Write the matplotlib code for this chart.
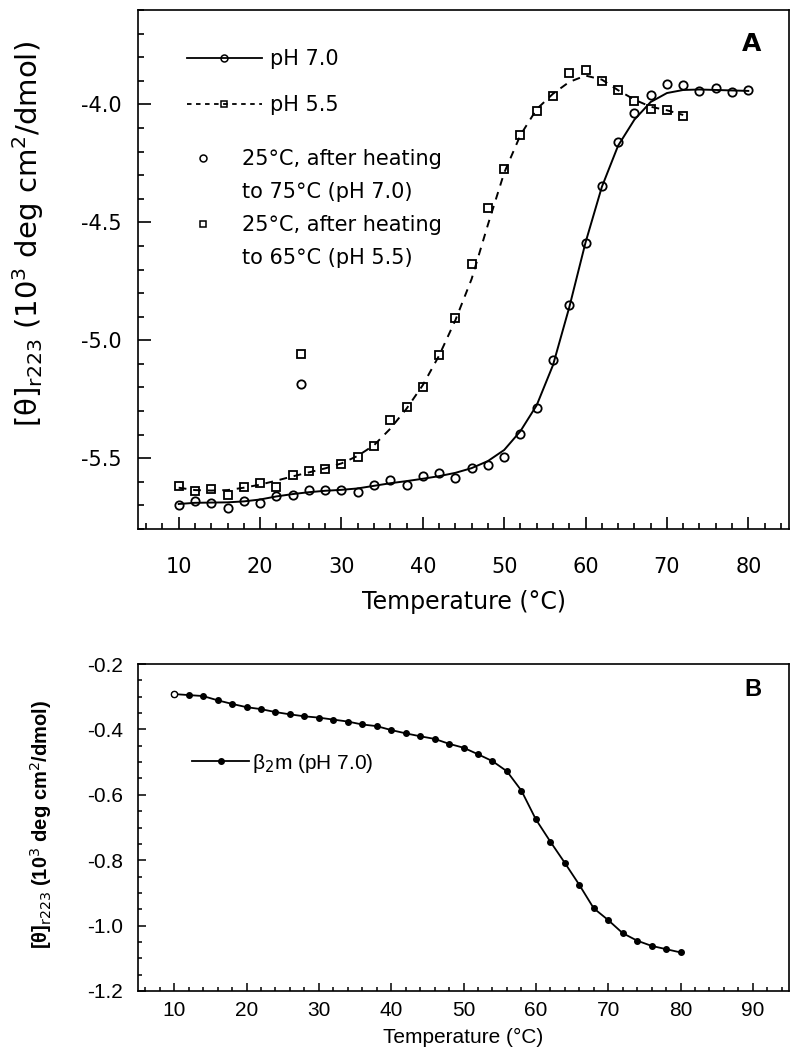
import matplotlib
matplotlib.use('Agg')
import matplotlib.pyplot as plt
from matplotlib.lines import Line2D
from matplotlib.ticker import MultipleLocator, FormatStrFormatter

plt.rcParams['font.family'] = ['DejaVu Sans']
plt.rcParams['axes.unicode_minus'] = False
plt.rcParams['mathtext.fontset'] = 'dejavusans'

# ---------------- Panel A data ----------------
temp_a70 = [10, 12, 14, 16, 18, 20, 22, 24, 26, 28, 30, 32, 34, 36, 38, 40, 42, 44,
            46, 48, 50, 52, 54, 56, 58, 60, 62, 64, 66, 68, 70, 72, 74, 76, 78, 80]
ph70 = [-5.697, -5.680, -5.691, -5.711, -5.683, -5.691, -5.659, -5.654, -5.636, -5.636,
        -5.636, -5.645, -5.614, -5.594, -5.612, -5.577, -5.563, -5.583,
        -5.541, -5.529, -5.493, -5.398, -5.289, -5.082, -4.852, -4.589, -4.346, -4.159,
        -4.035, -3.959, -3.914, -3.918, -3.945, -3.931, -3.948, -3.941]
fit70 = [-5.694, -5.689, -5.688, -5.687, -5.683, -5.675, -5.662, -5.652, -5.644, -5.638,
         -5.634, -5.628, -5.617, -5.606, -5.597, -5.587, -5.576, -5.562,
         -5.542, -5.512, -5.465, -5.385, -5.275, -5.105, -4.860, -4.585, -4.350, -4.175,
         -4.065, -3.990, -3.952, -3.939, -3.937, -3.939, -3.941, -3.943]

temp_a55 = [10, 12, 14, 16, 18, 20, 22, 24, 26, 28, 30, 32, 34, 36, 38, 40, 42, 44,
            46, 48, 50, 52, 54, 56, 58, 60, 62, 64, 66, 68, 70, 72]
ph55 = [-5.616, -5.640, -5.630, -5.657, -5.623, -5.604, -5.622, -5.573, -5.556, -5.544,
        -5.525, -5.495, -5.447, -5.337, -5.282, -5.197, -5.062, -4.907,
        -4.677, -4.441, -4.276, -4.128, -4.028, -3.966, -3.866, -3.853, -3.899, -3.938,
        -3.986, -4.018, -4.024, -4.051]
fit55 = [-5.625, -5.635, -5.637, -5.635, -5.625, -5.612, -5.595, -5.577, -5.560, -5.543,
         -5.522, -5.490, -5.445, -5.375, -5.290, -5.190, -5.065, -4.915,
         -4.740, -4.510, -4.290, -4.130, -4.020, -3.955, -3.905, -3.878, -3.895, -3.940,
         -3.980, -4.010, -4.025, -4.045]

reheat_T = [25]
reheat_70 = [-5.186]
reheat_55 = [-5.059]

legend_a = ['pH 7.0', 'pH 5.5',
            '25°C, after heating', 'to 75°C (pH 7.0)',
            '25°C, after heating', 'to 65°C (pH 5.5)']

# ---------------- Panel B data ----------------
temp_b = [10, 12, 14, 16, 18, 20, 22, 24, 26, 28, 30, 32, 34, 36, 38, 40, 42, 44,
          46, 48, 50, 52, 54, 56, 58, 60, 62, 64, 66, 68, 70, 72, 74, 76, 78, 80]
b2m = [-0.292, -0.295, -0.298, -0.311, -0.322, -0.332, -0.338, -0.347, -0.354, -0.360,
       -0.364, -0.370, -0.376, -0.385, -0.390, -0.402, -0.412, -0.421,
       -0.429, -0.444, -0.456, -0.476, -0.497, -0.528, -0.587, -0.675, -0.743, -0.808,
       -0.875, -0.947, -0.983, -1.023, -1.046, -1.062, -1.072, -1.082]
legend_b = 'β$_2$m (pH 7.0)'
ylabel_txt = '[θ]$_{\\rm r223}$ (10$^3$ deg cm$^2$/dmol)'

W, H = 798, 1057
fig = plt.figure(figsize=(W / 100, H / 100), dpi=100)

def box(l, t, r, b):
    return [l / W, 1 - b / H, (r - l) / W, (b - t) / H]

# ================= Panel A =================
ax1 = fig.add_axes(box(138, 10, 789, 529))
ax1.plot(temp_a70, fit70, '-', color='k', lw=1.4)
ax1.plot(temp_a55, fit55, color='k', lw=1.4, ls=(0, (4, 3.5)))
mk = dict(mfc='none', mec='k', mew=1.3, ls='none')
ax1.plot(temp_a70, ph70, marker='o', ms=6, **mk)
ax1.plot(temp_a55, ph55, marker='s', ms=5.5, **mk)
ax1.plot(reheat_T, reheat_70, marker='o', ms=6, **mk)
ax1.plot(reheat_T, reheat_55, marker='s', ms=5.5, **mk)

ax1.set_xlim(5, 85)
ax1.set_ylim(-5.8, -3.6)
ax1.set_xticks([10, 20, 30, 40, 50, 60, 70, 80])
ax1.xaxis.set_minor_locator(MultipleLocator(2))
ax1.yaxis.set_major_locator(MultipleLocator(0.5))
ax1.yaxis.set_minor_locator(MultipleLocator(0.1))
ax1.yaxis.set_major_formatter(FormatStrFormatter('%.1f'))
ax1.tick_params(which='both', direction='in', top=False, right=False, width=1.2)
ax1.tick_params(which='major', length=9, labelsize=15)
ax1.tick_params(axis='x', which='major', pad=20)
ax1.tick_params(axis='y', which='major', pad=12)
ax1.tick_params(which='minor', length=4.5)
for s in ax1.spines.values():
    s.set_linewidth(1.2)

h1 = Line2D([], [], color='k', lw=1.3, marker='o', ms=5, mfc='none', mec='k', mew=1.1)
h2 = Line2D([], [], color='k', lw=1.3, ls=(0, (2.5, 2.5)), marker='s', ms=5, mfc='none', mec='k', mew=1.1)
leg1 = ax1.legend([h1, h2], legend_a[:2], loc='upper left', bbox_to_anchor=(0.075, 0.925),
                  frameon=False, handlelength=3.6, handletextpad=0.4, labelspacing=1.25,
                  borderpad=0, borderaxespad=0, fontsize=15, numpoints=1)
ax1.add_artist(leg1)
h3 = Line2D([], [], ls='none', marker='o', ms=5, mfc='none', mec='k', mew=1.1)
h4 = Line2D([], [], ls='none', marker='s', ms=5, mfc='none', mec='k', mew=1.1)
hb = Line2D([], [], ls='none', marker=None)
ax1.legend([h3, hb, h4, hb], legend_a[2:], loc='upper left', bbox_to_anchor=(0.0845, 0.732),
           frameon=False, handlelength=1.0, handletextpad=1.35, labelspacing=0.62,
           borderpad=0, borderaxespad=0, fontsize=15, numpoints=1)

ax1.text(752 / W, 1 - 44 / H, 'A', transform=fig.transFigure, fontsize=18, fontweight='bold',
         ha='center', va='center')
fig.text(463.5 / W, 1 - 602 / H, 'Temperature (°C)', fontsize=17, ha='center', va='center')
fig.text(28 / W, 1 - 234 / H, ylabel_txt, fontsize=21, rotation=90, ha='center', va='center')

# ================= Panel B =================
fb = ['Liberation Sans', 'DejaVu Sans']
ax2 = fig.add_axes(box(138, 664, 789, 991))
ax2.plot(temp_b, b2m, '-', color='k', lw=1.3, marker='o', ms=4, mfc='k', mec='k')
ax2.plot(temp_b[:1], b2m[:1], ls='none', marker='o', ms=4.5, mfc='white', mec='k', mew=1.0)
ax2.set_xlim(5, 95)
ax2.set_ylim(-1.2, -0.2)
ax2.set_xticks([10, 20, 30, 40, 50, 60, 70, 80, 90])
ax2.xaxis.set_minor_locator(MultipleLocator(2))
ax2.yaxis.set_major_locator(MultipleLocator(0.2))
ax2.yaxis.set_minor_locator(MultipleLocator(0.05))
ax2.yaxis.set_major_formatter(FormatStrFormatter('%.1f'))
ax2.tick_params(which='both', direction='in', top=False, right=False, width=1.1)
ax2.tick_params(which='major', length=6, labelsize=15)
ax2.tick_params(which='minor', length=3)
ax2.tick_params(axis='x', which='major', pad=7)
ax2.tick_params(axis='y', which='major', pad=11)
for lab in ax2.get_xticklabels() + ax2.get_yticklabels():
    lab.set_family(fb)
for s in ax2.spines.values():
    s.set_linewidth(1.2)

hB = Line2D([], [], color='k', lw=1.3, marker='o', ms=4, mfc='k', mec='k')
ax2.legend([hB], [legend_b], loc='center left', bbox_to_anchor=(0.083, 0.697),
           frameon=False, handlelength=2.75, handletextpad=0.15, borderpad=0,
           borderaxespad=0, prop={'family': fb, 'size': 15}, numpoints=1)

ax2.text(753 / W, 1 - 690 / H, 'B', transform=fig.transFigure, fontsize=17,
         fontweight='bold', family=fb, ha='center', va='center')
fig.text(463.5 / W, 1 - 1037 / H, 'Temperature (°C)', fontsize=15, family=fb,
         ha='center', va='center')
fig.text(41 / W, 1 - 824 / H, ylabel_txt,
         fontsize=14.5, fontweight='bold', family=fb, rotation=90, ha='center', va='center')

fig.savefig('out.png', dpi=100)
